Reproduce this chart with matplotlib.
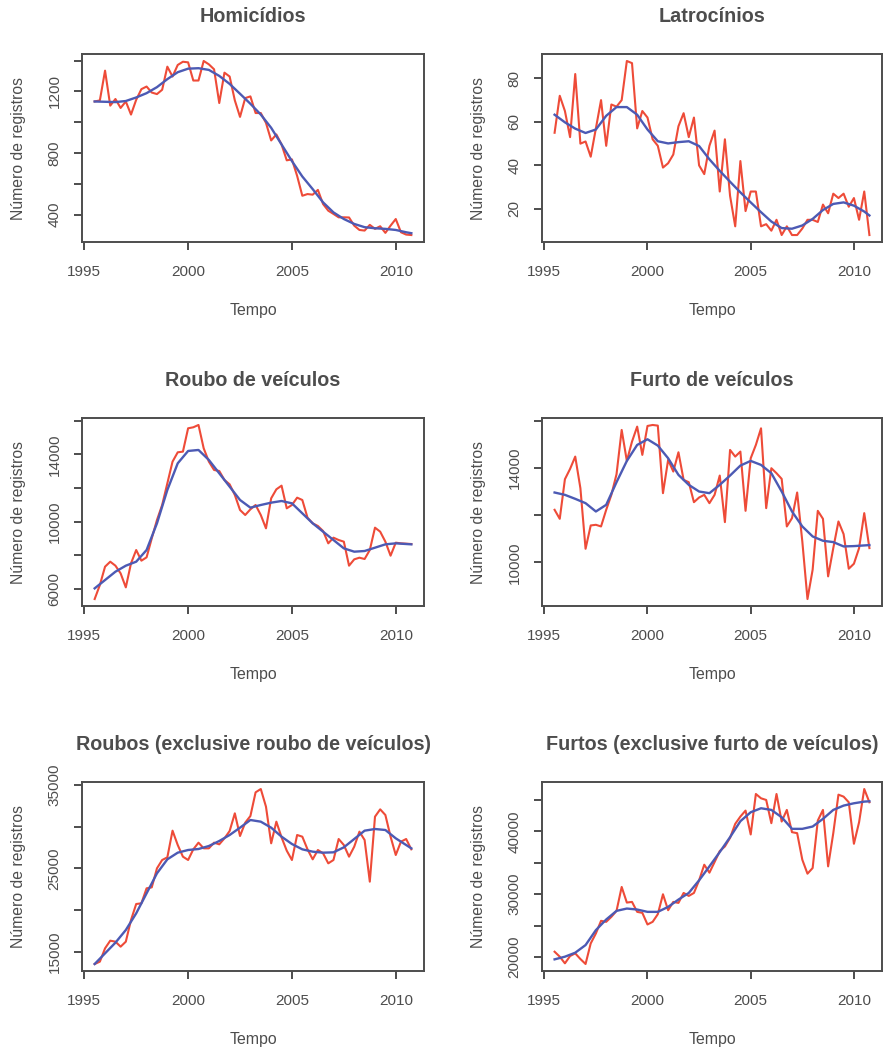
import numpy as np
import matplotlib
matplotlib.use('Agg')
import matplotlib.pyplot as plt

# quarterly series, 1995 Q3 .. 2010 Q4
t = 1995.5 + 0.25 * np.arange(62)
trend_idx = list(range(0, 62, 2)) + [61]
t_trend = t[trend_idx]

hom = [1135, 1142, 1335, 1108, 1151, 1093, 1135, 1050, 1146, 1215, 1232, 1193, 1183, 1211, 1361, 1297,
       1372, 1393, 1389, 1271, 1271, 1398, 1376, 1344, 1125, 1322, 1297, 1142, 1035, 1157, 1168, 1060,
       1060, 996, 882, 921, 856, 753, 759, 652, 523, 534, 530, 561, 469, 426, 405, 383,
       383, 382, 329, 301, 297, 334, 308, 325, 282, 329, 372, 286, 271, 268]
hom_trend = [1135, 1133, 1131, 1138, 1161, 1189, 1228, 1280, 1325, 1348, 1351, 1340, 1301, 1249, 1185, 1120,
             1050, 964, 856, 748, 648, 566, 480, 415, 372, 340, 319, 312, 308, 301, 286, 280]

lat = [55, 72, 65, 53, 82, 50, 51, 44, 57, 70, 49, 68, 67, 70, 88, 87,
       57, 65, 62, 52, 49, 39, 41, 45, 58, 64, 53, 62, 40, 36, 49, 56,
       28, 52, 26, 12, 42, 19, 28, 28, 12, 13, 10, 15, 8, 12, 8, 8,
       11, 15, 15, 14, 22, 18, 27, 25, 27, 21, 25, 15, 28, 8]
lat_trend = [63.3, 59.8, 56.9, 54.9, 56.5, 62.8, 66.8, 66.8, 63.3, 56.5, 51.1, 50.1, 50.7, 51.1, 48.9, 42.8,
             37.5, 32.5, 27.6, 23.0, 18.5, 14.2, 11.2, 10.9, 12.4, 15.4, 19.5, 22.3, 23.0, 21.5, 18.8, 17.0]

rv = [5405, 6238, 7329, 7626, 7388, 6932, 6099, 7527, 8320, 7686, 7884, 9014, 10105, 10997, 12286, 13575,
      14130, 14170, 15558, 15618, 15756, 14368, 13575, 13079, 13020, 12484, 12227, 11592, 10700, 10402, 10739, 10997,
      10402, 9609, 11394, 11929, 12147, 10799, 10997, 11433, 11295, 10244, 9907, 9748, 9450, 8717,
      9054, 8915, 8816, 7388, 7765, 7864, 7785, 8320, 9649, 9411, 8816, 7983, 8756, 8717, 8697, 8677]
rv_trend = [6040, 6535, 7031, 7388, 7626, 8320, 9907, 11890, 13476, 14210, 14269, 13674, 12881, 12088, 11295, 10839,
            10997, 11136, 11235, 11096, 10501, 9907, 9411, 8915, 8419, 8221, 8261, 8459, 8657, 8717, 8677, 8657]

fv = [12225, 11844, 13520, 13956, 14477, 13140, 10577, 11563, 11591, 11521, 12225, 12858, 13731, 15604, 14294, 15111,
      15745, 14548, 15773, 15815, 15787, 12929, 14337, 13844, 14660, 13492, 13393, 12548, 12746, 12858, 12506, 12858,
      13675, 11704, 14759, 14477, 14689, 12182, 14407, 14970, 15674, 12295, 13985, 13773, 13534, 11521,
      11873, 12957, 10887, 8450, 9690, 12182, 11844, 9409, 10605, 11732, 11197, 9732, 9944, 10605, 12084, 10605]
fv_trend = [12957, 12858, 12689, 12506, 12154, 12436, 13393, 14294, 14970, 15210, 14942, 14407, 13703, 13281, 12999, 12929,
            13281, 13675, 14097, 14294, 14125, 13773, 12999, 12154, 11521, 11098, 10915, 10859, 10676, 10690, 10718, 10732]

rb = [13520, 13800, 15400, 16320, 16200, 15600, 16200, 18800, 20720, 20800, 22600, 22720, 25000, 26000, 26320, 29520,
      27800, 26400, 26000, 27280, 28080, 27400, 27400, 28080, 27880, 28600, 29480, 31600, 28880, 30480, 31280, 34120,
      34520, 32400, 28000, 30600, 28720, 27120, 26000, 29000, 28800, 27280, 26080, 27200, 26800, 25600,
      26000, 28520, 27800, 26400, 27600, 29400, 28400, 23400, 31200, 32080, 31400, 28800, 26600, 28200, 28520, 27280]
rb_trend = [13520, 14800, 16080, 17600, 19600, 22000, 24400, 26080, 26880, 27200, 27320, 27680, 28280, 29000, 29880, 30800,
            30600, 29880, 28800, 27920, 27280, 27000, 26880, 26920, 27520, 28520, 29520, 29720, 29600, 28600, 27800, 27400]

ft = [20846, 20053, 18996, 20159, 20581, 19683, 18890, 22167, 23752, 25761, 25602, 26395, 27346, 31151, 28667, 28773,
      27188, 27029, 25179, 25602, 26818, 29989, 27452, 28773, 28615, 30200, 29724, 30200, 32208, 34692, 33424, 35115,
      36859, 37599, 38973, 41193, 42356, 43307, 39502, 45949, 45262, 44998, 41299, 45949, 41563, 43413,
      39872, 39713, 35485, 33265, 34164, 41721, 43413, 34428, 39713, 45844, 45526, 44628, 38022, 41457, 46742, 44628]
ft_trend = [19630, 20053, 20687, 21903, 24281, 25972, 27346, 27716, 27558, 27188, 27188, 27980, 29143, 30200, 32208, 34428,
            36701, 39079, 41616, 43043, 43677, 43413, 42250, 40400, 40400, 40770, 41986, 43413, 44100, 44470, 44734, 44787]

titles = ['Homicídios', 'Latrocínios', 'Roubo de veículos', 'Furto de veículos',
          'Roubos (exclusive roubo de veículos)', 'Furtos (exclusive furto de veículos)']
series = [hom, lat, rv, fv, rb, ft]
trends = [hom_trend, lat_trend, rv_trend, fv_trend, rb_trend, ft_trend]

# y ticks, and the ones R actually labels
yticks = [[400, 600, 800, 1000, 1200, 1400], [20, 40, 60, 80],
          [6000, 8000, 10000, 12000, 14000, 16000], [10000, 12000, 14000, 16000],
          [15000, 20000, 25000, 30000, 35000], [20000, 25000, 30000, 35000, 40000, 45000]]
ylabels_shown = [[400, 800, 1200], [20, 40, 60, 80], [6000, 10000, 14000], [10000, 14000],
                 [15000, 25000, 35000], [20000, 30000, 40000]]
xticks = [1995, 2000, 2005, 2010]

RED = '#EE4B38'
BLUE = '#4C5AB4'
GREY = '#4D4D4D'

plt.rcParams['font.family'] = ['Liberation Sans', 'DejaVu Sans']

fig = plt.figure(figsize=(8.86, 10.5), dpi=100)
W, H = 886, 1050
lefts = [82, 542]
rows = [(54, 242), (418, 606), (782, 971)]
widths = [342, 340]

for k in range(6):
    r, c = divmod(k, 2)
    top, bot = rows[r]
    ax = fig.add_axes([lefts[c] / W, 1 - bot / H, widths[c] / W, (bot - top) / H])
    y = np.array(series[k], dtype=float)
    ax.plot(t, y, color=RED, lw=1.5, zorder=2)
    ax.plot(t_trend, trends[k], color=BLUE, lw=1.7, zorder=3)

    # R style 4% padding
    pad = 0.04 * (y.max() - y.min())
    ax.set_ylim(y.min() - pad, y.max() + pad)
    xpad = 0.04 * (t[-1] - t[0])
    ax.set_xlim(t[0] - xpad, t[-1] + xpad)

    ax.set_xticks(xticks)
    ax.set_xticklabels([str(v) for v in xticks])
    ax.set_yticks(yticks[k])
    ax.set_yticklabels([str(v) if v in ylabels_shown[k] else '' for v in yticks[k]],
                       rotation=90, va='center')

    for s in ax.spines.values():
        s.set_color(GREY)
        s.set_linewidth(1.4)
    ax.tick_params(direction='out', length=5.8, width=1.4, color=GREY,
                   labelcolor=GREY, labelsize=11)
    ax.tick_params(axis='x', pad=10.5)
    ax.tick_params(axis='y', pad=9)

    ax.annotate(titles[k], xy=(0.5, 1), xycoords='axes fraction', xytext=(0, 27),
                textcoords='offset points', ha='center', va='center',
                fontsize=14.2, fontweight='bold', color=GREY)
    ax.annotate('Tempo', xy=(0.5, 0), xycoords='axes fraction', xytext=(0, -49),
                textcoords='offset points', ha='center', va='center',
                fontsize=11.4, color=GREY)
    ax.annotate('Número de registros', xy=(0, 0.5), xycoords='axes fraction', xytext=(-46, 0),
                textcoords='offset points', ha='center', va='center', rotation=90,
                fontsize=11.3, color=GREY)

fig.savefig('out.png', dpi=100)
